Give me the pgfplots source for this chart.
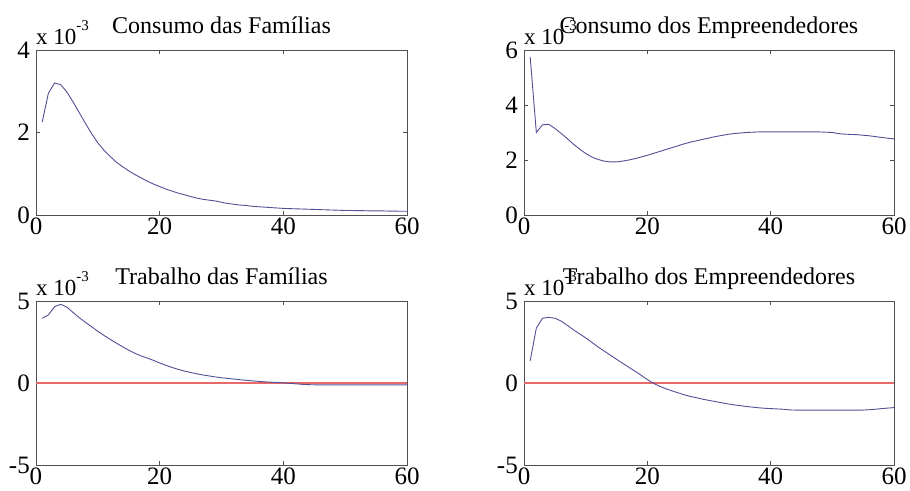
\documentclass[border=0pt]{standalone}
\usepackage{fontspec}
\setmainfont{Liberation Serif}
\usepackage{pgfplots}
\usepackage{pgfplotstable}
\pgfplotsset{compat=1.18}

\definecolor{irfblue}{RGB}{80,80,150}
\definecolor{zeroref}{RGB}{232,105,105}
\definecolor{boxgray}{RGB}{80,80,80}

% impulse responses (units of 10^-3), t = 1..60
% cf: consumo das familias, ce: consumo dos empreendedores
% tf: trabalho das familias, te: trabalho dos empreendedores
\pgfplotstableread{
t cf ce tf te
1 2.25 5.75 3.95 1.35
2 2.95 3.00 4.15 3.35
3 3.20 3.28 4.65 3.95
4 3.16 3.30 4.80 4.00
5 2.98 3.15 4.62 3.95
6 2.74 2.97 4.30 3.78
7 2.48 2.78 3.98 3.52
8 2.22 2.58 3.70 3.25
9 1.97 2.40 3.43 3.00
10 1.75 2.24 3.15 2.75
11 1.57 2.11 2.90 2.48
12 1.42 2.02 2.66 2.20
13 1.28 1.96 2.43 1.95
14 1.17 1.93 2.21 1.70
15 1.07 1.93 2.00 1.45
16 0.98 1.96 1.81 1.20
17 0.90 2.00 1.65 0.96
18 0.82 2.05 1.52 0.72
19 0.75 2.11 1.38 0.47
20 0.69 2.17 1.22 0.21
21 0.63 2.24 1.08 -0.02
22 0.58 2.31 0.95 -0.20
23 0.53 2.38 0.83 -0.35
24 0.49 2.45 0.73 -0.48
25 0.45 2.52 0.64 -0.60
26 0.41 2.59 0.56 -0.72
27 0.38 2.65 0.49 -0.82
28 0.36 2.70 0.43 -0.90
29 0.34 2.75 0.37 -0.99
30 0.31 2.80 0.32 -1.06
31 0.28 2.85 0.28 -1.13
32 0.26 2.89 0.24 -1.20
33 0.24 2.93 0.20 -1.27
34 0.23 2.96 0.16 -1.33
35 0.21 2.98 0.13 -1.38
36 0.20 3.00 0.10 -1.43
37 0.19 3.01 0.07 -1.47
38 0.18 3.02 0.05 -1.51
39 0.17 3.02 0.03 -1.54
40 0.16 3.02 0.01 -1.56
41 0.155 3.02 -0.02 -1.58
42 0.15 3.02 -0.05 -1.60
43 0.145 3.02 -0.08 -1.64
44 0.14 3.02 -0.10 -1.65
45 0.135 3.02 -0.11 -1.65
46 0.13 3.02 -0.11 -1.65
47 0.125 3.02 -0.11 -1.65
48 0.12 3.02 -0.11 -1.65
49 0.115 3.01 -0.11 -1.65
50 0.11 3.00 -0.11 -1.65
51 0.11 2.96 -0.11 -1.65
52 0.105 2.94 -0.11 -1.65
53 0.105 2.93 -0.11 -1.65
54 0.10 2.92 -0.11 -1.65
55 0.10 2.90 -0.11 -1.65
56 0.10 2.88 -0.11 -1.63
57 0.095 2.85 -0.11 -1.60
58 0.095 2.82 -0.11 -1.56
59 0.09 2.79 -0.11 -1.53
60 0.09 2.77 -0.11 -1.50
}\irfdata

\pgfplotsset{
  irfpanel/.style={
    scale only axis, anchor=south west,
    width=371pt, height=165pt,
    xmin=0, xmax=60, xtick={0,20,40,60},
    axis line style={boxgray, line width=0.9pt},
    tick style={boxgray, line width=0.8pt},
    tick align=inside, major tick length=4pt, tick pos=both,
    /pgf/number format/assume math mode=true,
    tick label style={font=\fontsize{25}{25}\selectfont},
    xticklabel style={inner sep=0pt, yshift=-3pt},
    yticklabel style={inner sep=0pt, xshift=-6pt},
    title style={at={(0.5,1)}, anchor=base, yshift=10pt, inner sep=0pt,
                 font=\fontsize{24}{24}\selectfont},
    clip=false,
  },
}

% "x 10^-3" scale note above the top-left corner of each panel
\newcommand{\scalenote}{%
  \node[anchor=base west, inner sep=0pt, font=\fontsize{23}{23}\selectfont]
    at (rel axis cs:0,1) [yshift=5pt]
    {x 10\raisebox{0.62em}{\fontsize{15}{15}\selectfont -3}};}

\begin{document}
\begin{tikzpicture}
\useasboundingbox (0,0) rectangle (910pt,490pt);

\begin{axis}[irfpanel, at={(36pt,275pt)},
  ymin=0, ymax=4, ytick={0,2,4},
  title={Consumo das Famílias}]
  \addplot[color=irfblue, line width=0.9pt] table[x=t, y=cf] {\irfdata};
  \scalenote
\end{axis}

\begin{axis}[irfpanel, at={(524pt,275pt)}, width=370pt,
  ymin=0, ymax=6, ytick={0,2,4,6},
  title={Consumo dos Empreendedores}]
  \addplot[color=irfblue, line width=0.9pt] table[x=t, y=ce] {\irfdata};
  \scalenote
\end{axis}

\begin{axis}[irfpanel, at={(36pt,25pt)}, height=164pt,
  ymin=-5, ymax=5, ytick={-5,0,5},
  title={Trabalho das Famílias}]
  \addplot[color=zeroref, line width=1.1pt] coordinates {(0,0) (60,0)};
  \addplot[color=irfblue, line width=0.9pt] table[x=t, y=tf] {\irfdata};
  \scalenote
\end{axis}

\begin{axis}[irfpanel, at={(524pt,25pt)}, width=370pt, height=164pt,
  ymin=-5, ymax=5, ytick={-5,0,5},
  title={Trabalho dos Empreendedores}]
  \addplot[color=zeroref, line width=1.1pt] coordinates {(0,0) (60,0)};
  \addplot[color=irfblue, line width=0.9pt] table[x=t, y=te] {\irfdata};
  \scalenote
\end{axis}
\end{tikzpicture}
\end{document}
